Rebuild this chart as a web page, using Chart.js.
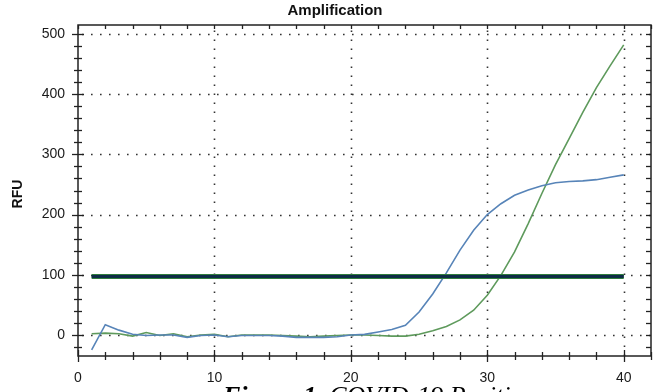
<!DOCTYPE html>
<html><head><meta charset="utf-8">
<script src="https://cdn.jsdelivr.net/npm/chart.js@4.4.1/dist/chart.umd.min.js"></script>
<style>html,body{margin:0;padding:0;background:#fff;overflow:hidden}canvas{display:block}</style>
</head><body>
<canvas id="c" width="657" height="392"></canvas>
<script>
const cycles = [1,2,3,4,5,6,7,8,9,10,11,12,13,14,15,16,17,18,19,20,21,22,23,24,25,26,27,28,29,30,31,32,33,34,35,36,37,38,39,40];
const blueRFU = [-25,17,8,1,-1,0,0,-4,-1,0,-3,-1,-1,-1,-2,-4,-4,-4,-3,0,1,5,9,16,38,68,103,141,174,200,218,232,241,248,253,255,256,258,262,266];
const greenRFU = [2,3,2,-2,4,-1,2,-3,0,1,-3,0,0,0,-1,-2,-3,-2,-1,0,0,-1,-2,-2,1,7,14,25,41,66,99,138,185,235,283,326,370,411,447,482];
const thresholdRFU = 97;
const thresholdCycles = [1, 40];
const xTickValues = [0,10,20,30,40];
const yTickValues = [0,100,200,300,400,500];
const xMinorStep = 2;
const yMinorStep = 20;
const chartTitle = 'Amplification';
const yAxisTitle = 'RFU';
const captionBold = 'Figure 1.';
const captionRest = ' COVID-19 Positive';

const toPts = (xs, ys) => xs.map((x, i) => ({x: x, y: ys[i]}));

const framePlugin = {
  id: 'frame',
  beforeDatasetsDraw(chart) {
    const {ctx, chartArea: ca, scales: {x, y}} = chart;
    ctx.save();
    ctx.strokeStyle = '#333';
    ctx.lineWidth = 1.6;
    ctx.setLineDash([1.6, 7.4]);
    xTickValues.forEach(v => {
      const px = Math.round(x.getPixelForValue(v)) + 0.5;
      if (px <= ca.left + 2) return;
      ctx.beginPath(); ctx.moveTo(px, ca.bottom); ctx.lineTo(px, ca.top); ctx.stroke();
    });
    yTickValues.forEach(v => {
      const py = Math.round(y.getPixelForValue(v)) + 0.5;
      ctx.beginPath(); ctx.moveTo(ca.left + 4, py); ctx.lineTo(ca.right, py); ctx.stroke();
    });
    ctx.restore();
  },
  afterDatasetsDraw(chart) {
    const {ctx, chartArea: ca, scales: {x, y}} = chart;
    ctx.save();
    ctx.strokeStyle = '#222';
    ctx.lineWidth = 1.5;
    ctx.strokeRect(ca.left, ca.top, ca.right - ca.left, ca.bottom - ca.top);
    ctx.lineWidth = 1.3;
    for (let v = 0; v <= x.max + 0.001; v += xMinorStep) {
      const px = Math.round(x.getPixelForValue(v)) + 0.5;
      const major = xTickValues.includes(v);
      const l = major ? 6 : 4;
      ctx.beginPath(); ctx.moveTo(px, ca.bottom - l); ctx.lineTo(px, ca.bottom + l); ctx.stroke();
      ctx.beginPath(); ctx.moveTo(px, ca.top); ctx.lineTo(px, ca.top + 4); ctx.stroke();
    }
    for (let v = -yMinorStep; v <= y.max; v += yMinorStep) {
      const py = Math.round(y.getPixelForValue(v)) + 0.5;
      const major = yTickValues.includes(v);
      const l = major ? 6 : 4;
      ctx.beginPath(); ctx.moveTo(ca.left - l, py); ctx.lineTo(ca.left + l, py); ctx.stroke();
      ctx.beginPath(); ctx.moveTo(ca.right - 5, py); ctx.lineTo(ca.right, py); ctx.stroke();
    }
    ctx.restore();
  },
  afterDraw(chart) {
    const {ctx} = chart;
    ctx.save();
    ctx.fillStyle = '#111';
    ctx.textAlign = 'center';
    ctx.textBaseline = 'middle';
    ctx.font = 'bold 15px "Liberation Sans", Arial, sans-serif';
    ctx.fillText(chartTitle, 335, 11);
    ctx.save();
    ctx.translate(18, 194);
    ctx.rotate(-Math.PI / 2);
    ctx.font = 'bold 14px "Liberation Sans", Arial, sans-serif';
    ctx.fillText(yAxisTitle, 0, 0);
    ctx.restore();
    ctx.textAlign = 'left';
    ctx.textBaseline = 'alphabetic';
    ctx.fillStyle = '#000';
    ctx.font = 'italic bold 26px "Liberation Serif", "Times New Roman", serif';
    ctx.fillText(captionBold, 223, 404);
    const w = ctx.measureText(captionBold).width;
    ctx.font = 'italic 26px "Liberation Serif", "Times New Roman", serif';
    ctx.fillText(captionRest, 223 + w, 404);
    ctx.restore();
  }
};

new Chart(document.getElementById('c'), {
  type: 'line',
  data: {
    datasets: [
      {data: toPts(thresholdCycles, thresholdCycles.map(() => thresholdRFU)), borderColor: '#0d2c45', borderWidth: 3, pointRadius: 0},
      {data: toPts(thresholdCycles, thresholdCycles.map(() => thresholdRFU)), borderColor: '#2f7d3c', borderWidth: 5, pointRadius: 0},
      {data: toPts(cycles, blueRFU), borderColor: '#5784b8', borderWidth: 1.6, pointRadius: 0, tension: 0},
      {data: toPts(cycles, greenRFU), borderColor: '#5e9a5c', borderWidth: 1.6, pointRadius: 0, tension: 0}
    ]
  },
  options: {
    responsive: false,
    animation: false,
    devicePixelRatio: 1,
    layout: {padding: {top: 25, right: 6, left: 0, bottom: 0}},
    plugins: {legend: {display: false}, tooltip: {enabled: false}, title: {display: false}},
    scales: {
      x: {
        type: 'linear', min: 0, max: 42,
        afterBuildTicks: s => { s.ticks = xTickValues.map(v => ({value: v})); },
        afterFit: s => { s.height = 36; },
        grid: {display: false, drawTicks: false},
        border: {display: false},
        ticks: {font: {family: '"Liberation Sans", Arial, sans-serif', size: 14}, color: '#1a1a1a', padding: 14, maxRotation: 0, autoSkip: false}
      },
      y: {
        type: 'linear', min: -35, max: 515,
        afterBuildTicks: s => { s.ticks = yTickValues.map(v => ({value: v})); },
        afterFit: s => { s.width = 78; },
        grid: {display: false, drawTicks: false},
        border: {display: false},
        ticks: {font: {family: '"Liberation Sans", Arial, sans-serif', size: 14}, color: '#1a1a1a', padding: 13}
      }
    }
  },
  plugins: [framePlugin]
});
</script>
</body></html>
